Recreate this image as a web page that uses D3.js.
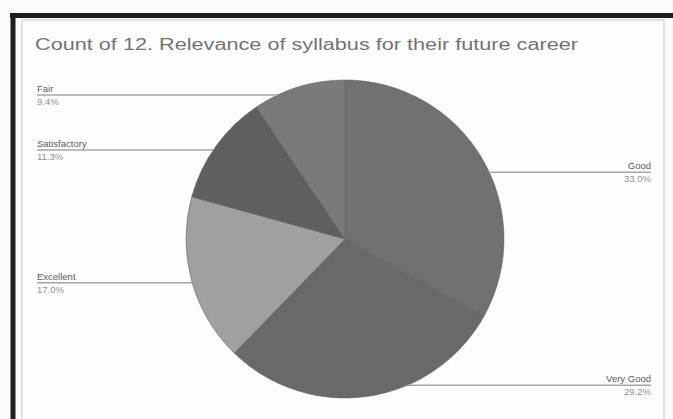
<!DOCTYPE html>
<html><head><meta charset="utf-8">
<script src="https://cdn.jsdelivr.net/npm/d3@7"></script>
<style>body{margin:0;background:#fff}svg{display:block}</style>
</head><body>
<script>
const categories = ["Good", "Very Good", "Excellent", "Satisfactory", "Fair"];
const values = [33.0, 29.2, 17.0, 11.3, 9.4];
const labels = ["33.0%", "29.2%", "17.0%", "11.3%", "9.4%"];
const colors = ["#717171", "#696969", "#a0a0a0", "#5f5f5f", "#7a7a7a"];
const title = "Count of 12. Relevance of syllabus for their future career";

const W = 673, H = 419;
const svg = d3.select("body").append("svg").attr("width", W).attr("height", H);
svg.append("rect").attr("width", W).attr("height", H).attr("fill", "#fbfbfb");
// frame
svg.append("rect").attr("x", 22).attr("y", 20).attr("width", 642).attr("height", 405)
  .attr("fill", "#fdfdfd").attr("stroke", "#d8d8d8").attr("stroke-width", 1.5);
svg.append("line").attr("x1", 10).attr("x2", W).attr("y1", 15.5).attr("y2", 15.5)
  .attr("stroke", "#1e1e1e").attr("stroke-width", 5);
svg.append("line").attr("x1", 13).attr("x2", 13).attr("y1", 13).attr("y2", H)
  .attr("stroke", "#1e1e1e").attr("stroke-width", 5);

svg.append("text").attr("x", 35).attr("y", 50).text(title)
  .attr("font-family", "Liberation Sans, Arial, sans-serif").attr("font-size", 16)
  .attr("textLength", 543).attr("lengthAdjust", "spacingAndGlyphs")
  .attr("fill", "#737373");

const cx = 345, cy = 239, r = 159;
const pie = d3.pie().sort(null).value(d => d)(values);
const arc = d3.arc().innerRadius(0).outerRadius(r);
const g = svg.append("g").attr("transform", `translate(${cx},${cy})`);
g.selectAll("path").data(pie).join("path")
  .attr("d", arc).attr("fill", (d, i) => colors[i])
  .attr("stroke", "#656565").attr("stroke-width", 0.6);

// label layout: vertical offsets of the leader lines relative to slice midpoint
const nudge = [14, -11, 2, 4, 8];
const font = "Liberation Sans, Arial, sans-serif";
pie.forEach((d, i) => {
  const mid = (d.startAngle + d.endAngle) / 2;
  const right = Math.sin(mid) > 0;
  const ly = cy - r * Math.cos(mid) + nudge[i];
  const dy = Math.min(Math.abs(ly - cy), r);
  const ex = cx + (right ? 1 : -1) * Math.sqrt(r * r - dy * dy);
  const tx = right ? 651 : 37;
  svg.append("line").attr("x1", ex).attr("y1", ly).attr("x2", tx).attr("y2", ly)
    .attr("stroke", "#a5a5a5").attr("stroke-width", 1.5);
  svg.append("text").attr("x", tx).attr("y", ly - 3).text(categories[i])
    .attr("text-anchor", right ? "end" : "start")
    .attr("font-family", font).attr("font-size", 9.5).attr("fill", "#5a5a5a");
  svg.append("text").attr("x", tx).attr("y", ly + 10).text(labels[i])
    .attr("text-anchor", right ? "end" : "start")
    .attr("font-family", font).attr("font-size", 9.5).attr("fill", "#909090");
});
</script>
</body></html>
